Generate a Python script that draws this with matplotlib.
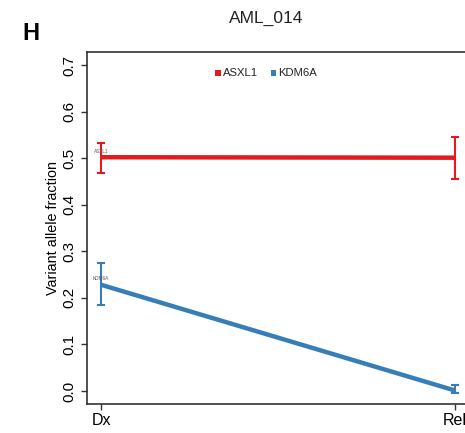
import matplotlib
matplotlib.use("Agg")
from matplotlib import pyplot as plt
from matplotlib.patches import Rectangle

plt.rcParams["font.family"] = ["Liberation Sans", "DejaVu Sans"]

# time points and variant allele fractions per gene
timepoints = ["Dx", "Rel"]
genes = ["ASXL1", "KDM6A"]
colors = ["#E41A1C", "#377EB8"]
vaf = {
    "ASXL1": [0.502, 0.501],
    "KDM6A": [0.228, 0.001],
}
err_hi = {
    "ASXL1": [0.533, 0.545],
    "KDM6A": [0.275, 0.013],
}
err_lo = {
    "ASXL1": [0.468, 0.456],
    "KDM6A": [0.185, -0.004],
}
yticks = [0.0, 0.1, 0.2, 0.3, 0.4, 0.5, 0.6, 0.7]

fig = plt.figure(figsize=(4.65, 4.33), dpi=100)
ax = fig.add_axes([87 / 465, 29 / 433, 382 / 465, 352 / 433])

x = list(range(len(timepoints)))
for gene, col in zip(genes, colors):
    y = vaf[gene]
    lo = [a - b for a, b in zip(y, err_lo[gene])]
    hi = [b - a for a, b in zip(y, err_hi[gene])]
    ax.plot(x, y, color=col, lw=3.2, solid_capstyle="butt", zorder=2)
    ax.errorbar(x, y, yerr=[lo, hi], fmt="none", ecolor=col, elinewidth=1.5,
                capsize=3, capthick=1.5, zorder=3)
    # small gene tag next to the first point
    ax.text(x[0], y[0] + 0.008, gene, fontsize=3.4, color="#555555",
            ha="center", va="bottom", zorder=4)

ax.set_xlim(-0.04, 1.04)
ax.set_ylim(-0.028, 0.728)
ax.set_xticks(x)
ax.set_xticklabels(timepoints, fontsize=11.5)
ax.set_yticks(yticks)
ax.set_yticklabels(["%.1f" % v for v in yticks], fontsize=11, rotation=90,
                   va="center")
ax.tick_params(axis="both", length=4.5, width=1, color="#333333")
ax.tick_params(axis="y", pad=3)
ax.tick_params(axis="x", pad=2)
ax.set_ylabel("Variant allele fraction", fontsize=10.4, labelpad=2)

for side in ["left", "top", "bottom"]:
    ax.spines[side].set_linewidth(1.2)
    ax.spines[side].set_color("#333333")
ax.spines["right"].set_visible(False)

# legend with square keys along the top
key_x = [0.322, 0.479]
for gene, col, lx in zip(genes, colors, key_x):
    ax.add_patch(Rectangle((lx, 0.6775), 0.016, 0.011, transform=ax.transData,
                           facecolor=col, edgecolor="none", clip_on=False))
    ax.text(lx + 0.022, 0.683, gene, fontsize=8.1, va="center", ha="left",
            color="#222222")

fig.text(266 / 465, 1 - 18 / 433, "AML_014", fontsize=12.5, ha="center",
         va="center", color="#222222")
fig.text(22 / 465, 1 - 34 / 433, "H", fontsize=17, fontweight="bold",
         ha="left", va="center")

fig.savefig("out.png", dpi=100)
